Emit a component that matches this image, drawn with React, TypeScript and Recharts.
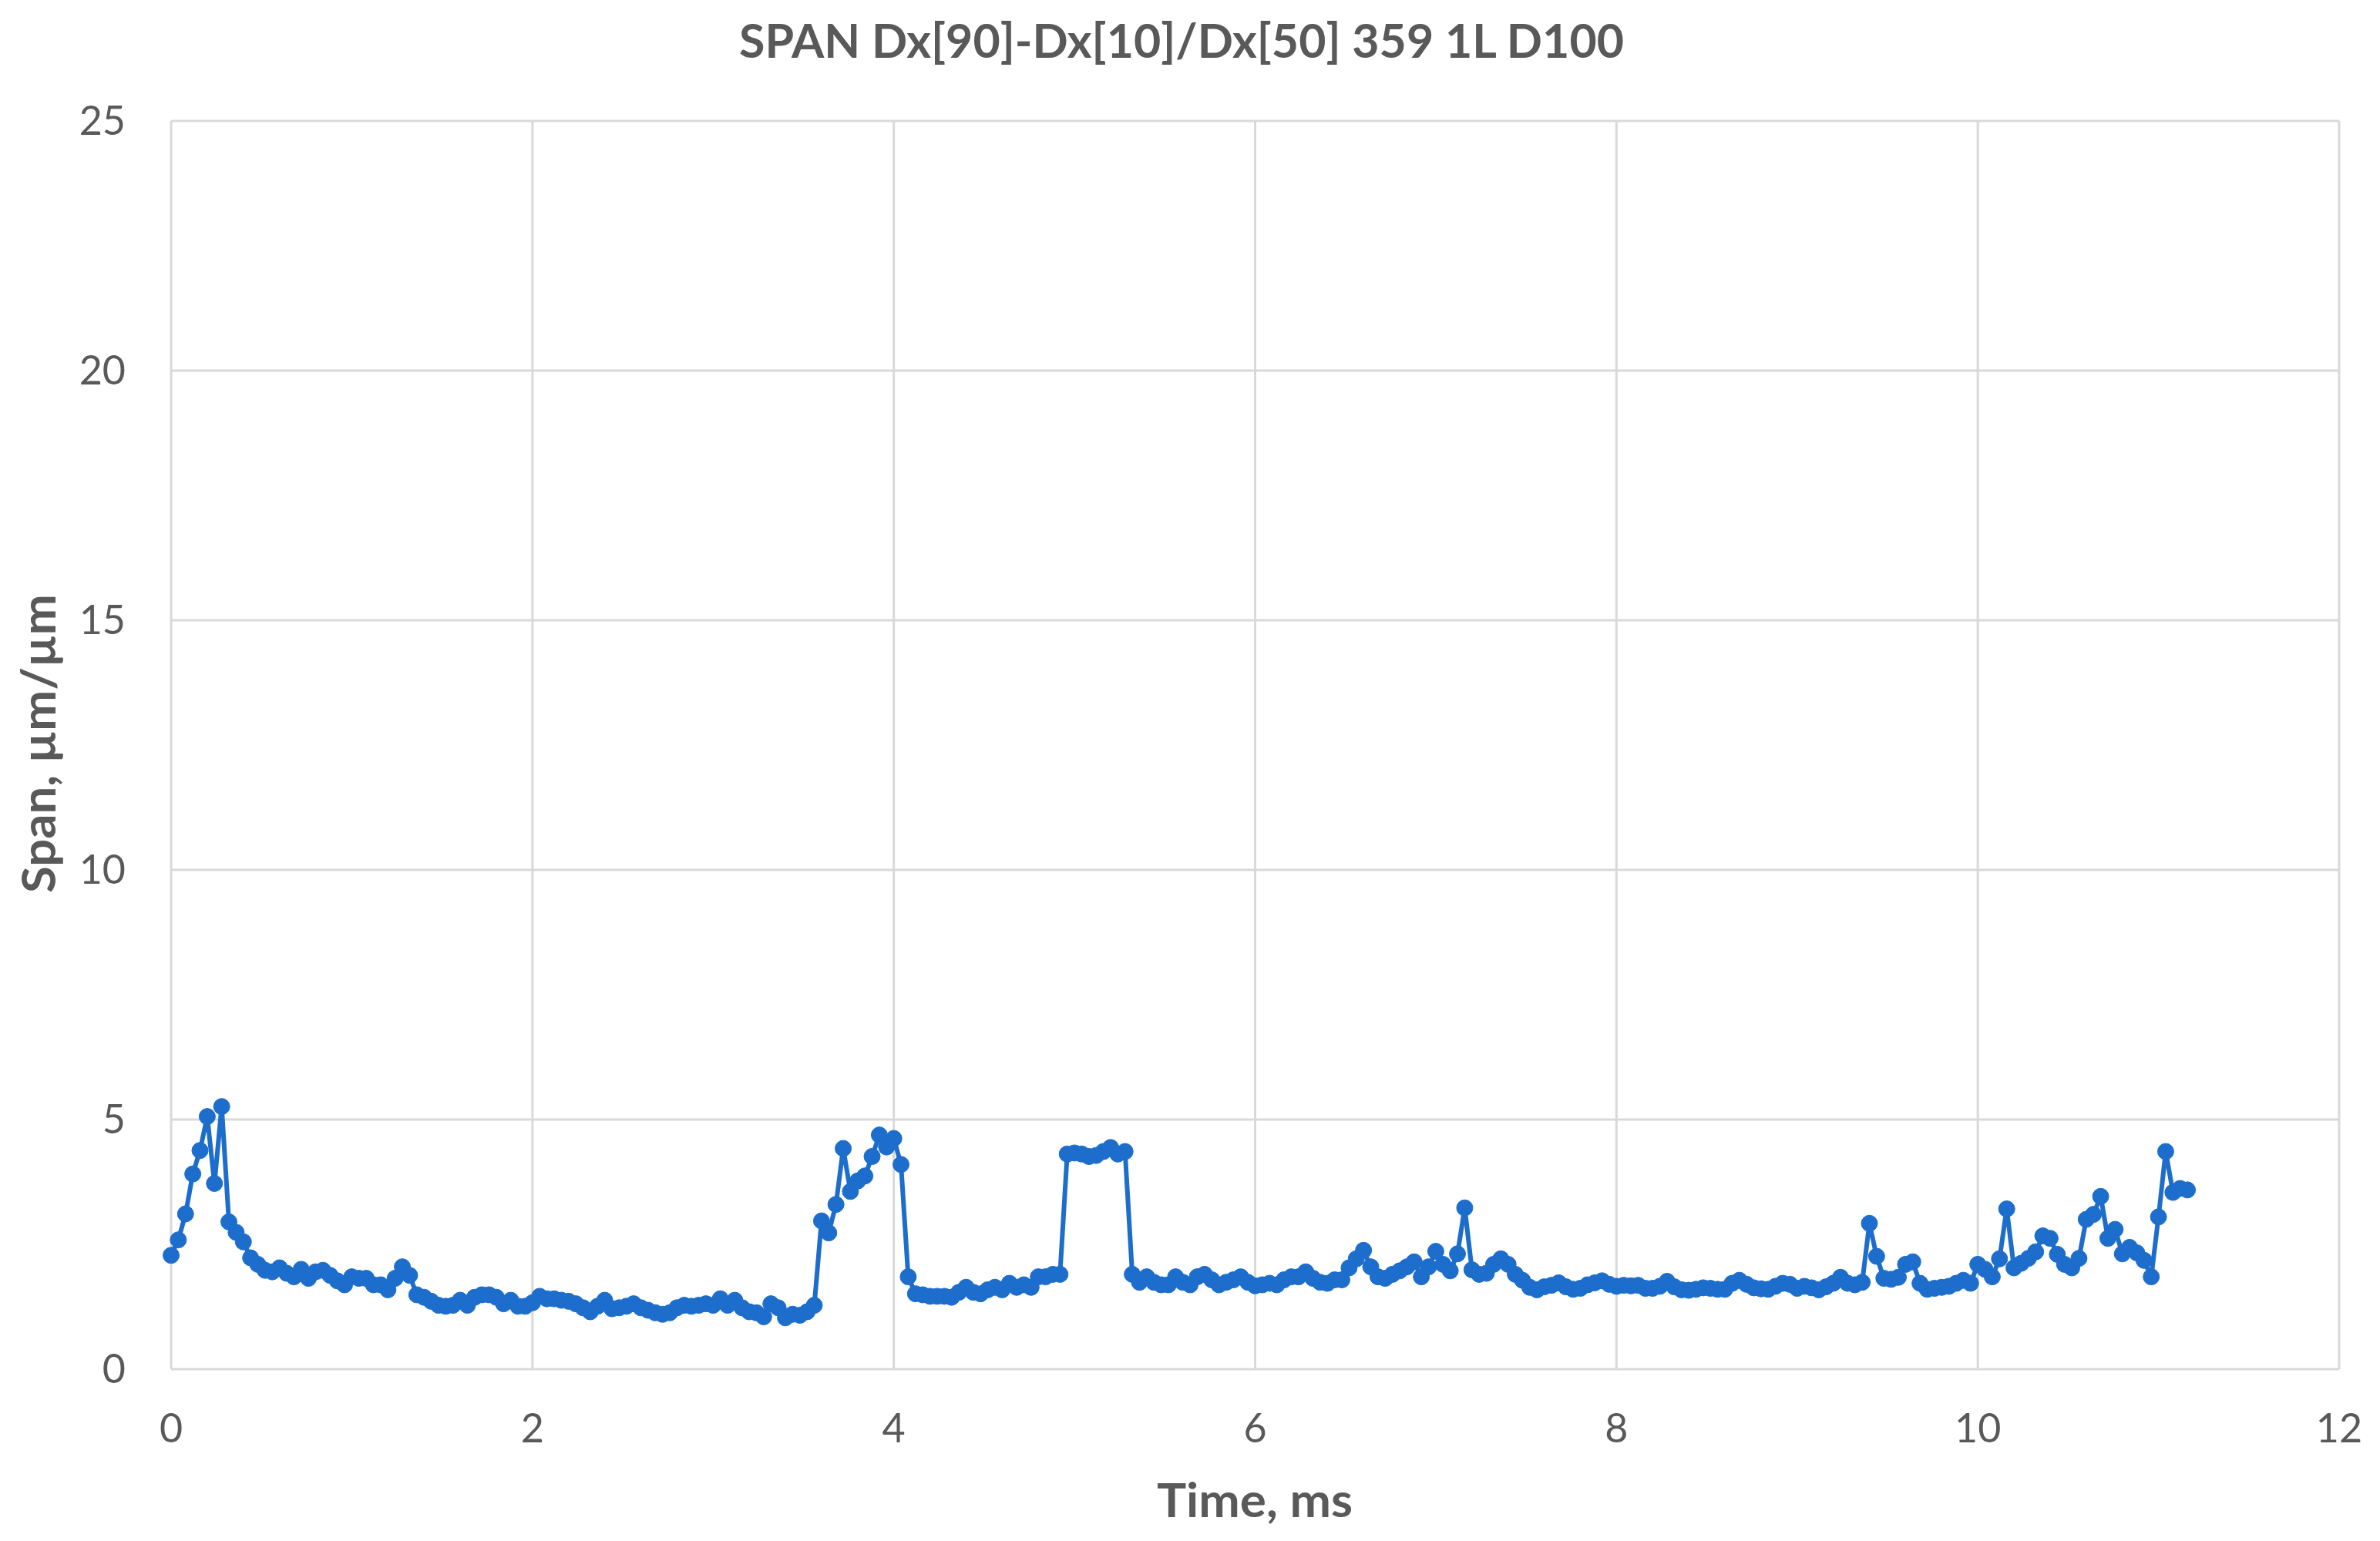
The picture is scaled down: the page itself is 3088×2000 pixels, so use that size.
import React from 'react';
import { LineChart, Line, XAxis, YAxis, CartesianGrid } from 'recharts';

const TITLE = 'SPAN Dx[90]-Dx[10]/Dx[50] 359 1L D100';
const X_TITLE = 'Time, ms';
const Y_TITLE = 'Span, µm/µm';
const X_TICKS = [0, 2, 4, 6, 8, 10, 12];
const Y_TICKS = [0, 5, 10, 15, 20, 25];

const TIME_MS = [
  0.00, 0.04, 0.08, 0.12, 0.16, 0.20, 0.24, 0.28, 0.32, 0.36,
  0.40, 0.44, 0.48, 0.52, 0.56, 0.60, 0.64, 0.68, 0.72, 0.76,
  0.80, 0.84, 0.88, 0.92, 0.96, 1.00, 1.04, 1.08, 1.12, 1.16,
  1.20, 1.24, 1.28, 1.32, 1.36, 1.40, 1.44, 1.48, 1.52, 1.56,
  1.60, 1.64, 1.68, 1.72, 1.76, 1.80, 1.84, 1.88, 1.92, 1.96,
  2.00, 2.04, 2.08, 2.12, 2.16, 2.20, 2.24, 2.28, 2.32, 2.36,
  2.40, 2.44, 2.48, 2.52, 2.56, 2.60, 2.64, 2.68, 2.72, 2.76,
  2.80, 2.84, 2.88, 2.92, 2.96, 3.00, 3.04, 3.08, 3.12, 3.16,
  3.20, 3.24, 3.28, 3.32, 3.36, 3.40, 3.44, 3.48, 3.52, 3.56,
  3.60, 3.64, 3.68, 3.72, 3.76, 3.80, 3.84, 3.88, 3.92, 3.96,
  4.00, 4.04, 4.08, 4.12, 4.16, 4.20, 4.24, 4.28, 4.32, 4.36,
  4.40, 4.44, 4.48, 4.52, 4.56, 4.60, 4.64, 4.68, 4.72, 4.76,
  4.80, 4.84, 4.88, 4.92, 4.96, 5.00, 5.04, 5.08, 5.12, 5.16,
  5.20, 5.24, 5.28, 5.32, 5.36, 5.40, 5.44, 5.48, 5.52, 5.56,
  5.60, 5.64, 5.68, 5.72, 5.76, 5.80, 5.84, 5.88, 5.92, 5.96,
  6.00, 6.04, 6.08, 6.12, 6.16, 6.20, 6.24, 6.28, 6.32, 6.36,
  6.40, 6.44, 6.48, 6.52, 6.56, 6.60, 6.64, 6.68, 6.72, 6.76,
  6.80, 6.84, 6.88, 6.92, 6.96, 7.00, 7.04, 7.08, 7.12, 7.16,
  7.20, 7.24, 7.28, 7.32, 7.36, 7.40, 7.44, 7.48, 7.52, 7.56,
  7.60, 7.64, 7.68, 7.72, 7.76, 7.80, 7.84, 7.88, 7.92, 7.96,
  8.00, 8.04, 8.08, 8.12, 8.16, 8.20, 8.24, 8.28, 8.32, 8.36,
  8.40, 8.44, 8.48, 8.52, 8.56, 8.60, 8.64, 8.68, 8.72, 8.76,
  8.80, 8.84, 8.88, 8.92, 8.96, 9.00, 9.04, 9.08, 9.12, 9.16,
  9.20, 9.24, 9.28, 9.32, 9.36, 9.40, 9.44, 9.48, 9.52, 9.56,
  9.60, 9.64, 9.68, 9.72, 9.76, 9.80, 9.84, 9.88, 9.92, 9.96,
  10.00, 10.04, 10.08, 10.12, 10.16, 10.20, 10.24, 10.28, 10.32, 10.36,
  10.40, 10.44, 10.48, 10.52, 10.56, 10.60, 10.64, 10.68, 10.72, 10.76,
  10.80, 10.84, 10.88, 10.92, 10.96, 11.00, 11.04, 11.08, 11.12, 11.16,
];

const SPAN = [
  2.28, 2.59, 3.11, 3.91, 4.38, 5.06, 3.72, 5.26, 2.95, 2.74,
  2.55, 2.23, 2.10, 1.98, 1.95, 2.03, 1.92, 1.85, 2.00, 1.82,
  1.95, 1.98, 1.88, 1.77, 1.69, 1.85, 1.82, 1.82, 1.69, 1.69,
  1.59, 1.82, 2.05, 1.88, 1.49, 1.44, 1.36, 1.28, 1.26, 1.28,
  1.38, 1.28, 1.44, 1.49, 1.49, 1.44, 1.31, 1.38, 1.26, 1.26,
  1.33, 1.46, 1.41, 1.41, 1.38, 1.36, 1.31, 1.23, 1.15, 1.26,
  1.38, 1.21, 1.23, 1.26, 1.31, 1.23, 1.18, 1.13, 1.10, 1.13,
  1.23, 1.28, 1.26, 1.28, 1.31, 1.28, 1.41, 1.28, 1.38, 1.23,
  1.15, 1.13, 1.05, 1.31, 1.23, 1.03, 1.10, 1.08, 1.15, 1.28,
  2.97, 2.73, 3.30, 4.42, 3.56, 3.77, 3.87, 4.26, 4.69, 4.45,
  4.62, 4.10, 1.85, 1.51, 1.49, 1.46, 1.46, 1.46, 1.44, 1.54,
  1.64, 1.54, 1.51, 1.59, 1.64, 1.59, 1.72, 1.64, 1.69, 1.64,
  1.85, 1.85, 1.90, 1.90, 4.31, 4.33, 4.31, 4.26, 4.28, 4.36,
  4.44, 4.31, 4.36, 1.90, 1.74, 1.85, 1.74, 1.69, 1.69, 1.85,
  1.74, 1.69, 1.85, 1.90, 1.79, 1.69, 1.74, 1.79, 1.85, 1.74,
  1.67, 1.69, 1.72, 1.69, 1.79, 1.85, 1.85, 1.95, 1.82, 1.74,
  1.72, 1.79, 1.79, 2.03, 2.21, 2.38, 2.05, 1.85, 1.82, 1.90,
  1.97, 2.05, 2.15, 1.85, 2.05, 2.36, 2.10, 1.97, 2.31, 3.23,
  1.99, 1.90, 1.92, 2.10, 2.21, 2.10, 1.90, 1.78, 1.64, 1.59,
  1.65, 1.68, 1.73, 1.65, 1.60, 1.62, 1.69, 1.73, 1.77, 1.70,
  1.66, 1.68, 1.67, 1.68, 1.62, 1.62, 1.66, 1.76, 1.65, 1.59,
  1.58, 1.60, 1.63, 1.62, 1.60, 1.60, 1.72, 1.78, 1.70, 1.63,
  1.61, 1.60, 1.66, 1.72, 1.70, 1.62, 1.66, 1.63, 1.59, 1.65,
  1.72, 1.84, 1.72, 1.69, 1.74, 2.92, 2.26, 1.82, 1.80, 1.84,
  2.10, 2.15, 1.72, 1.60, 1.62, 1.64, 1.66, 1.72, 1.78, 1.72,
  2.10, 2.00, 1.85, 2.21, 3.21, 2.03, 2.12, 2.22, 2.35, 2.67,
  2.62, 2.30, 2.10, 2.03, 2.22, 3.00, 3.10, 3.46, 2.62, 2.80,
  2.31, 2.44, 2.33, 2.18, 1.85, 3.05, 4.36, 3.54, 3.62, 3.59,
];

const data = TIME_MS.map((t, i) => ({ t, span: SPAN[i] }));

const BLUE = '#1c6dcc';
const TEXT = '#595959';
const FONT = 'Lato, "Open Sans", sans-serif';

export default function App() {
  return (
    <div style={{ position: 'absolute', left: 0, top: 0, width: 3088, height: 2000, background: '#ffffff' }}>
      <LineChart
        width={3088}
        height={2000}
        data={data}
        margin={{ top: 157, right: 53, left: 122, bottom: 103 }}
      >
        <CartesianGrid stroke="#d9d9d9" strokeWidth={3} />
        <XAxis
          type="number"
          dataKey="t"
          domain={[0, 12]}
          ticks={X_TICKS}
          interval={0}
          height={120}
          axisLine={false}
          tickLine={false}
          tickMargin={52}
          tick={{ fill: TEXT, fontSize: 52, fontFamily: FONT }}
        />
        <YAxis
          type="number"
          domain={[0, 25]}
          ticks={Y_TICKS}
          interval={0}
          width={100}
          axisLine={false}
          tickLine={false}
          tickMargin={53}
          tick={{ fill: TEXT, fontSize: 52, fontFamily: FONT }}
        />
        <Line
          type="linear"
          dataKey="span"
          stroke={BLUE}
          strokeWidth={6}
          dot={{ r: 10.5, fill: BLUE, stroke: BLUE, strokeWidth: 1 }}
          activeDot={false}
          isAnimationActive={false}
        />
      </LineChart>
      <svg
        width={3088}
        height={2000}
        style={{ position: 'absolute', left: 0, top: 0, pointerEvents: 'none' }}
      >
        <text
          x={1533}
          y={75}
          textAnchor="middle"
          fill={TEXT}
          fontFamily={FONT}
          fontWeight={700}
          fontSize={62}
          textLength={1148}
          lengthAdjust="spacingAndGlyphs"
        >
          {TITLE}
        </text>
        <text
          x={1628}
          y={1969}
          textAnchor="middle"
          fill={TEXT}
          fontFamily={FONT}
          fontWeight={700}
          fontSize={61}
          textLength={254}
          lengthAdjust="spacingAndGlyphs"
        >
          {X_TITLE}
        </text>
        <text
          x={72}
          y={965}
          transform="rotate(-90, 72, 965)"
          textAnchor="middle"
          fill={TEXT}
          fontFamily={FONT}
          fontWeight={700}
          fontSize={61}
          textLength={388}
          lengthAdjust="spacingAndGlyphs"
        >
          {Y_TITLE}
        </text>
      </svg>
    </div>
  );
}
